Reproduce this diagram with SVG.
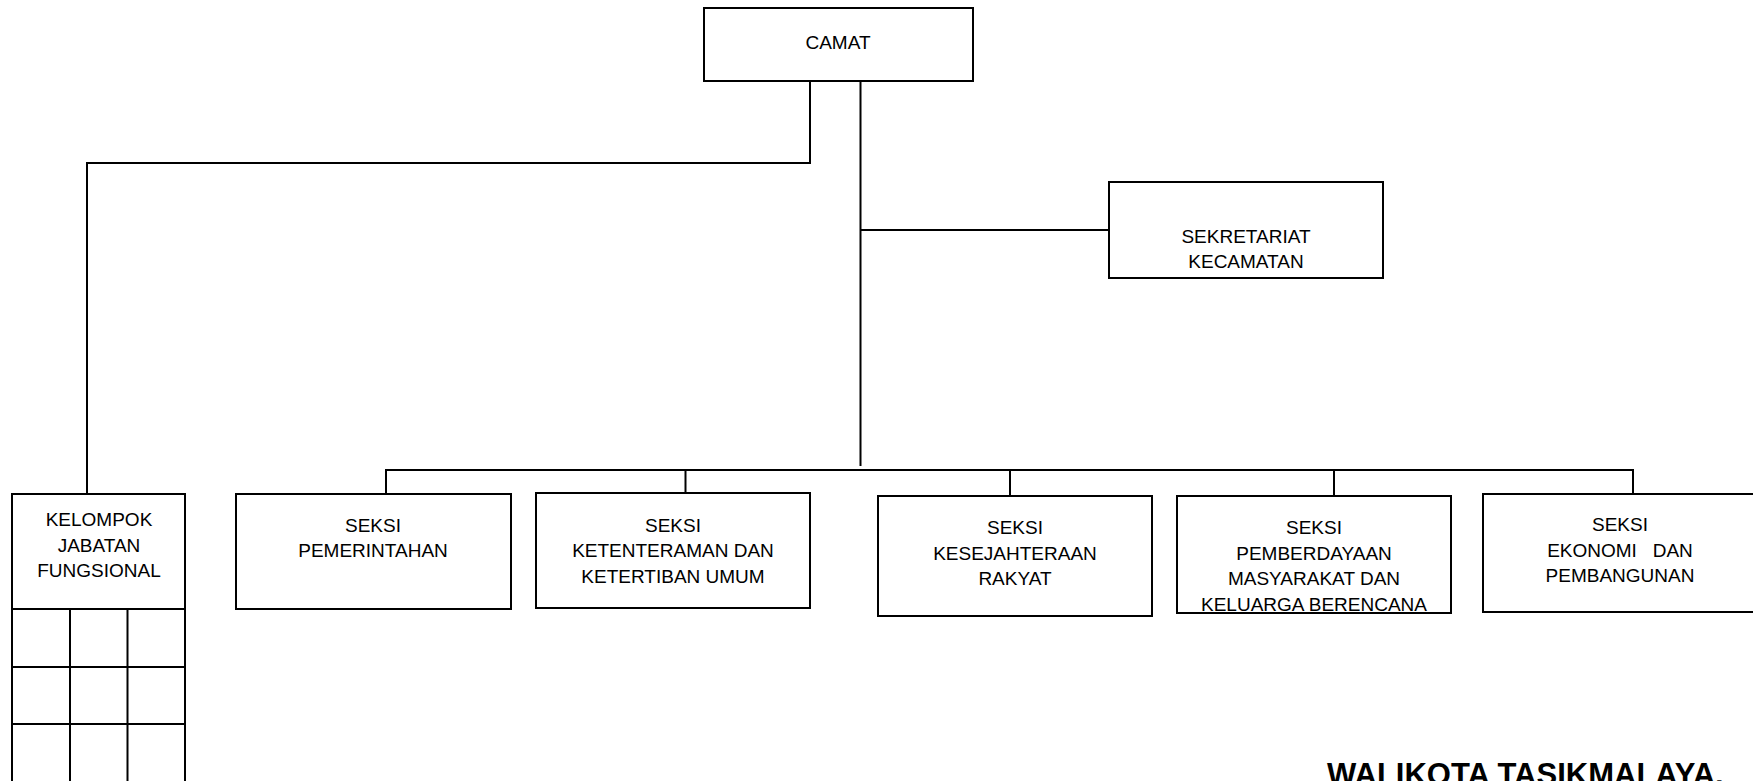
<svg xmlns="http://www.w3.org/2000/svg" width="1753" height="781" viewBox="0 0 1753 781">
<style>
.box{fill:#fff;stroke:#000;stroke-width:2}
.ln{fill:none;stroke:#000;stroke-width:2}
text{font-family:"Liberation Sans",Arial,sans-serif;font-size:19px;fill:#000;text-anchor:middle}
.ttl{font-weight:bold;font-size:31px;text-anchor:start}
</style>
<rect width="1753" height="781" fill="#fff"/>
<g id="connectors">
<path class="ln" d="M810,81 V163 H87 V494"/>
<path class="ln" d="M860.5,81 V466"/>
<path class="ln" d="M860.5,230 H1109"/>
<path class="ln" d="M386,494 V470 H1633 V494"/>
<path class="ln" d="M685.5,470 V493"/>
<path class="ln" d="M1010,470 V496"/>
<path class="ln" d="M1334,470 V496"/>
</g>
<g id="camat">
<rect class="box" x="704" y="8" width="269" height="73"/>
<text x="838" y="49">CAMAT</text>
</g>
<g id="sekretariat">
<rect class="box" x="1109" y="182" width="274" height="96"/>
<text x="1246" y="243">SEKRETARIAT</text>
<text x="1246" y="268">KECAMATAN</text>
</g>
<g id="kelompok">
<rect class="box" x="12" y="494" width="173" height="300"/>
<path class="ln" d="M12,609 H185 M12,667 H185 M12,724 H185 M70,609 V790 M127.5,609 V790"/>
<text x="99" y="526">KELOMPOK</text>
<text x="99" y="552">JABATAN</text>
<text x="99" y="577">FUNGSIONAL</text>
</g>
<g id="pemerintahan">
<rect class="box" x="236" y="494" width="275" height="115"/>
<text x="373" y="532">SEKSI</text>
<text x="373" y="557">PEMERINTAHAN</text>
</g>
<g id="ketenteraman">
<rect class="box" x="536" y="493" width="274" height="115"/>
<text x="673" y="532">SEKSI</text>
<text x="673" y="557">KETENTERAMAN DAN</text>
<text x="673" y="583">KETERTIBAN UMUM</text>
</g>
<g id="kesejahteraan">
<rect class="box" x="878" y="496" width="274" height="120"/>
<text x="1015" y="534">SEKSI</text>
<text x="1015" y="560">KESEJAHTERAAN</text>
<text x="1015" y="585">RAKYAT</text>
</g>
<g id="pemberdayaan">
<rect class="box" x="1177" y="496" width="274" height="117"/>
<text x="1314" y="534">SEKSI</text>
<text x="1314" y="560">PEMBERDAYAAN</text>
<text x="1314" y="585">MASYARAKAT DAN</text>
<text x="1314" y="611">KELUARGA BERENCANA</text>
</g>
<g id="ekonomi">
<rect class="box" x="1483" y="494" width="280" height="118"/>
<text x="1620" y="531">SEKSI</text>
<text x="1620" y="557" xml:space="preserve">EKONOMI   DAN</text>
<text x="1620" y="582">PEMBANGUNAN</text>
</g>
<g id="walikota">
<text class="ttl" x="1327" y="785">WALIKOTA TASIKMALAYA.</text>
</g>
</svg>
